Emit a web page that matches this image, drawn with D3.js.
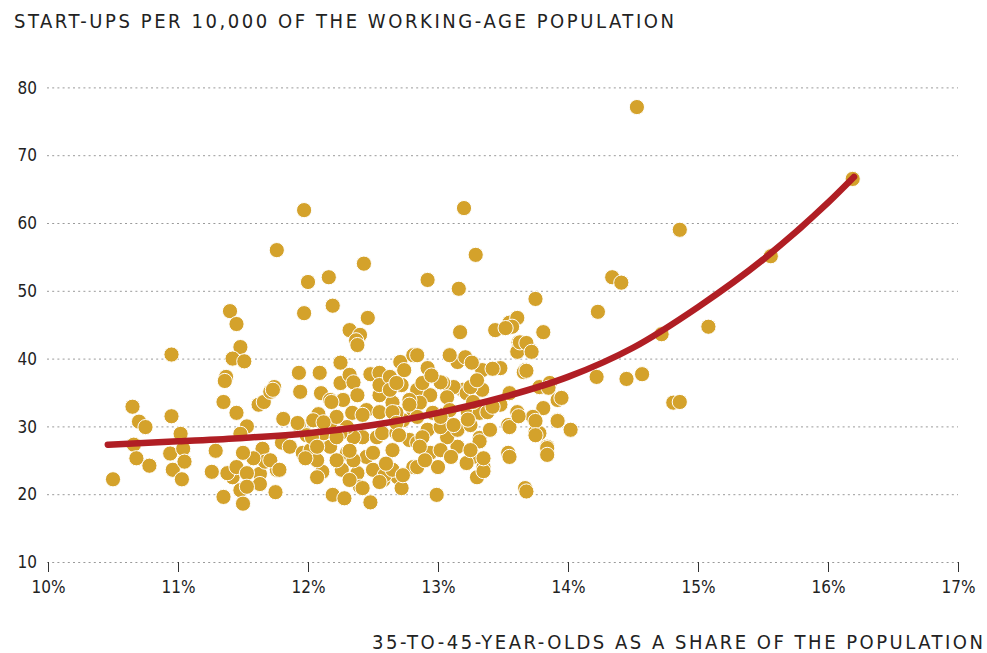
<!DOCTYPE html>
<html><head><meta charset="utf-8">
<script src="https://cdn.jsdelivr.net/npm/d3@7"></script>
<style>
html,body{margin:0;padding:0;background:#fff;}
svg text{font-family:"Liberation Sans Narrow","DejaVu Sans Condensed","Arial Narrow",sans-serif;fill:#222;}
</style></head>
<body><svg id="c" width="987" height="653"></svg>
<script>
const yTitle = "START-UPS PER 10,000 OF THE WORKING-AGE POPULATION";
const xTitle = "35-TO-45-YEAR-OLDS AS A SHARE OF THE POPULATION";
const xTicks = [10, 11, 12, 13, 14, 15, 16, 17];
const yTicks = [10, 20, 30, 40, 50, 60, 70, 80];

// [share of population %, start-ups per 10,000]
const points = [
[10.50,22.2],[10.65,32.9],[10.70,30.7],[10.75,29.9],[10.66,27.3],[10.68,25.3],[10.78,24.2],[10.95,40.6],[10.95,31.5],[10.96,23.6],[10.94,26.0],[11.02,28.9],[11.04,26.7],[11.05,24.8],[11.03,22.2],
[11.29,26.4],[11.26,23.3],[11.35,19.6],[11.35,33.6],[11.37,37.3],[11.36,36.7],[11.40,47.0],[11.45,45.1],[11.48,41.7],[11.42,40.0],[11.51,39.6],[11.45,32.0],[11.62,33.2],[11.66,33.6],[11.71,35.1],[11.74,35.8],[11.53,30.0],[11.48,28.9],[11.63,23.0],[11.63,21.5],[11.75,20.3],[11.42,22.5],[11.38,23.1],[11.45,24.0],[11.53,23.1],[11.48,20.6],[11.53,21.1],[11.65,26.7],[11.67,24.8],[11.58,25.3],[11.50,26.1],[11.76,23.6],[11.50,18.6],[11.76,56.0],
[11.81,31.1],[11.73,35.4],[11.80,27.6],[11.71,25.0],[11.78,23.6],[11.86,27.0],[11.93,30.2],[11.93,37.9],[11.96,26.1],[12.02,26.5],[11.99,28.7],
[11.97,61.9],[12.00,51.3],[12.16,52.0],[12.43,54.0],[11.97,46.7],[12.19,47.8],[12.46,46.0],[12.32,44.2],[12.40,43.5],[12.37,42.7],[12.38,42.0],
[12.09,37.9],[12.25,39.4],[12.10,34.9],[12.08,31.8],[12.25,36.4],[12.32,37.6],[12.48,37.7],[12.55,37.9],[12.71,39.5],[12.81,40.5],[12.74,38.3],[12.72,36.1],[12.55,34.6],[12.45,32.4],[12.34,32.0],[12.27,33.9],[12.17,30.5],[12.04,30.9],
[12.11,23.3],[12.17,27.0],[12.26,23.6],[12.30,26.1],[12.38,23.1],[12.42,28.4],[12.45,25.5],[12.50,23.6],[12.40,21.1],[12.19,19.9],[12.28,19.4],[12.48,18.8],[12.58,22.1],[12.65,26.5],[12.53,28.4],[12.78,28.0],[12.81,24.0],[12.69,22.5],[12.72,20.9],[12.81,32.4],[12.73,30.9],[12.65,33.5],[12.84,35.4],[12.35,28.4],[12.30,29.9],[12.22,31.4],[12.12,29.0],[12.07,25.0],[12.22,25.0],[12.35,25.0],
[13.17,43.9],[13.44,44.2],[13.55,45.3],[13.81,43.9],[13.62,42.4],[13.71,41.3],[13.61,41.0],[13.67,38.3],[13.48,38.6],[13.34,38.3],[13.15,39.5],[12.92,38.6],[12.84,40.5],[13.19,35.4],[13.12,35.8],[12.94,34.6],[12.86,33.5],[13.04,31.7],[13.23,32.1],[13.32,32.0],[13.48,33.2],[13.61,32.1],[13.55,34.9],[13.78,35.8],[13.86,36.4],[13.92,33.9],[13.81,32.7],[13.73,31.4],[13.54,30.2],[13.75,29.2],[13.92,30.9],[13.84,27.0],[13.84,26.1],[13.54,26.1],[13.32,28.3],[13.27,25.5],[13.22,24.6],[13.35,24.0],[13.30,22.5],[13.15,27.0],[13.07,28.4],[13.00,24.0],[12.94,26.1],[12.84,24.0],[12.99,19.9],[13.67,20.9],[12.84,27.6],[12.92,29.5],[13.02,29.9],[13.15,29.5],[13.25,30.2],[13.40,29.5],
[14.34,52.0],[14.41,51.2],[14.23,46.9],[14.72,43.6],[14.22,37.3],[14.45,37.0],[14.57,37.7],[14.81,33.5],[14.86,33.6],[13.95,34.2],[13.92,30.8],[14.02,29.5],[13.84,26.8],[13.84,25.8],[13.78,29.0],[13.85,35.7],[13.75,48.8],[13.61,46.0],[13.57,44.7],[13.52,44.5],[13.63,42.4],[13.68,42.3],[13.72,41.0],[13.66,38.0],[13.68,38.2],[13.42,38.5],[13.55,29.9],[13.62,31.5],[13.75,30.8],[13.75,28.7],[13.55,25.5],[13.68,20.4],[13.35,23.4],[13.32,27.8],
[14.53,77.1],[14.86,59.0],[15.08,44.7],[15.56,55.1],[16.19,66.5],[12.92,51.6],[13.20,62.2],[13.29,55.3],[13.16,50.3],
[13.09,40.5],[13.21,40.2],[13.26,39.4],[11.94,35.1],[12.35,36.5],[12.55,36.1],[13.04,36.4],[13.22,34.9],[13.34,35.4],[12.17,33.9],[12.78,33.9],[13.07,34.3],[13.27,33.6],[13.38,32.1],[12.55,32.1],[12.68,32.0],[12.84,31.4],[12.96,32.0],[13.09,32.4],[12.03,28.4],[12.25,29.0],[12.57,29.0],[12.88,28.4],[13.25,26.5],[12.59,22.8],
[12.63,37.3],[12.38,34.6],[12.63,35.4],[12.18,33.6],[12.12,30.6],[12.42,31.7],[12.65,32.1],[11.92,30.5],[12.22,28.4],[12.68,29.0],[12.07,27.0],[12.32,26.4],[12.50,26.1],[11.98,25.3],[12.65,23.6],[12.07,22.5],[12.32,22.1],[12.42,20.9],[12.55,21.8],
[12.68,36.4],[12.88,36.4],[13.02,36.5],[13.25,35.8],[12.78,33.2],[13.42,32.9],[12.68,30.5],[13.02,31.4],[13.12,30.2],[13.23,31.0],[12.70,28.7],[13.35,25.3],[12.86,27.0],[13.02,26.5],[12.73,22.8],[12.90,25.0],[13.10,25.5],[12.60,24.5],[12.95,37.5],[13.30,36.8]
];

// fitted trend line
const curveShare = [10.46, 11.0, 11.5, 12.0, 12.5, 13.0, 13.5, 14.0, 14.5, 15.0, 15.5, 16.0, 16.2];
const curveRate  = [27.3, 27.8, 28.3, 29.0, 30.2, 32.0, 34.3, 37.3, 41.6, 47.6, 54.6, 63.0, 66.8];

const svg = d3.select("#c");
const x = d3.scaleLinear().domain([10, 17]).range([48, 958]);
const y = d3.scaleLinear().domain([10, 80]).range([562, 87.4]);

// gridlines
const yAxis = d3.axisLeft(y).tickValues(yTicks).tickSize(-(958 - 47)).tickFormat(d3.format("d"));
const gy = svg.append("g").attr("transform", "translate(47,0)").call(yAxis);
gy.select(".domain").remove();
gy.selectAll(".tick line").attr("stroke", "#9a9a9a").attr("stroke-width", 1).attr("stroke-dasharray", "2,3.2");
gy.selectAll(".tick text").attr("x", -10).attr("font-size", 17).attr("fill", "#222").attr("dy", "0.34em");

// x axis
const xAxis = d3.axisBottom(x).tickValues(xTicks).tickSize(10).tickPadding(9).tickFormat(d => d + "%");
const gx = svg.append("g").attr("transform", "translate(0,562)").call(xAxis);
gx.select(".domain").remove();
gx.selectAll(".tick line").attr("stroke", "#333").attr("stroke-width", 1);
gx.selectAll(".tick text").attr("font-size", 17).attr("fill", "#222");

// dots
svg.append("g").selectAll("circle").data(points).join("circle")
  .attr("cx", d => x(d[0])).attr("cy", d => y(d[1])).attr("r", 7.6)
  .attr("fill", "#D4A22B").attr("stroke", "#fff").attr("stroke-width", 1);

// trend line
const line = d3.line().x(d => x(d[0])).y(d => y(d[1])).curve(d3.curveMonotoneX);
svg.append("path").datum(curveShare.map((s, i) => [s, curveRate[i]]))
  .attr("d", line).attr("fill", "none").attr("stroke", "#B01E24")
  .attr("stroke-width", 6.5).attr("stroke-linecap", "round");

// titles
svg.append("text").attr("x", 14).attr("y", 28).attr("font-size", 20)
  .attr("textLength", 660).attr("lengthAdjust", "spacing").text(yTitle);
svg.append("text").attr("x", 372).attr("y", 649).attr("font-size", 20)
  .attr("textLength", 611).attr("lengthAdjust", "spacing").text(xTitle);
</script></body></html>
